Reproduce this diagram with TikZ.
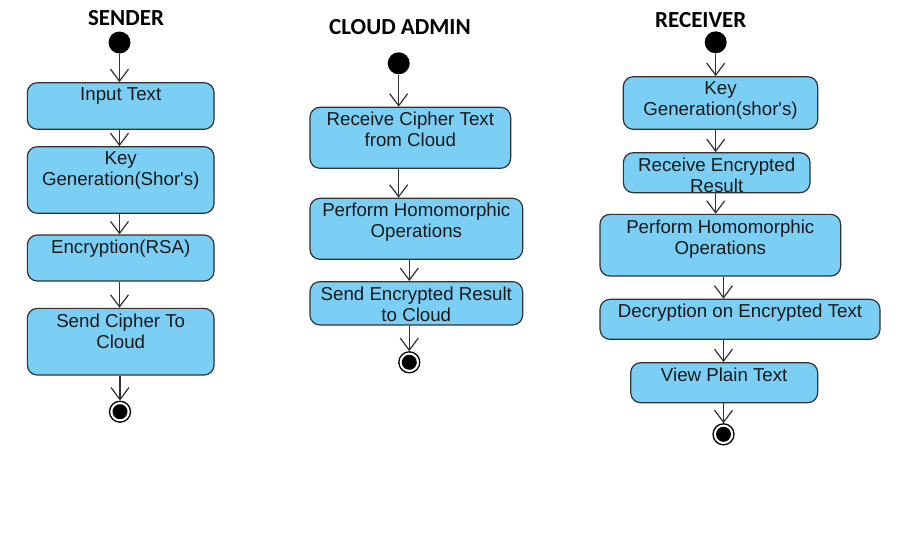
\documentclass[tikz,border=0pt]{standalone}
\usepackage{fontspec}
\setmainfont{Liberation Sans}
\newfontfamily\titlefont{Carlito}
\usetikzlibrary{arrows.meta}
\definecolor{actfill}{RGB}{123,206,244}
\definecolor{actline}{RGB}{50,50,50}
\newcommand\sq{\textquotesingle}
\tikzset{
  actbox/.style={draw=actline, fill=actfill, line width=1.2pt, rounded corners=10pt, inner sep=0pt},
  boxtext/.style={anchor=north, inner sep=0pt, align=center, text=black!90, font=\fontsize{18.7}{21}\selectfont},
  heading/.style={font=\titlefont\bfseries\fontsize{23}{26}\selectfont, inner sep=0pt},
  startnode/.style={circle, fill=black, minimum size=22pt, inner sep=0pt},
  endnode/.style={circle, draw=black, fill=white, line width=1.3pt, minimum size=21pt, inner sep=0pt,
    path picture={\fill[black] (path picture bounding box.center) circle (7.5pt);}},
  arr/.style={draw=actline, line width=1.2pt, -{Straight Barb[length=12pt,width=18pt,line width=1.2pt]}}
}
\begin{document}
\begin{tikzpicture}[x=1pt,y=-1pt]
\useasboundingbox (0,0) rectangle (917,542);
\fill[white] (0,0) rectangle (917,542);

% ---------- SENDER ----------
\node[heading] (h1) at (126,18) {SENDER};
\node[startnode] (s1) at (119.5,42.5) {};
\node[actbox, minimum width=186.7pt, minimum height=46.6pt] (a1) at (120.7,106) {};
\node[actbox, minimum width=186.7pt, minimum height=66.6pt] (a2) at (120.7,180) {};
\node[actbox, minimum width=186.7pt, minimum height=46pt] (a3) at (120.7,258) {};
\node[actbox, minimum width=186.7pt, minimum height=66.7pt] (a4) at (120.7,341.7) {};
\node[endnode] (e1) at (120,411.7) {};
\node[boxtext] (ta1) at ([yshift=-5.5pt]a1.north) {Input Text};
\node[boxtext] (ta2) at ([yshift=-5.5pt]a2.north) {Key\\Generation(Shor\sq s)};
\node[boxtext] (ta3) at ([yshift=-5.5pt]a3.north) {Encryption(RSA)};
\node[boxtext] (ta4) at ([yshift=-5.5pt]a4.north) {Send Cipher To\\Cloud};
\draw[arr] (s1) -- (a1.north -| s1);
\draw[arr] (a1.south -| s1) -- (a2.north -| s1);
\draw[arr] (a2.south -| s1) -- (a3.north -| s1);
\draw[arr] (a3.south -| s1) -- (a4.north -| s1);
\draw[arr] (a4.south -| e1) -- (e1);

% ---------- CLOUD ADMIN ----------
\node[heading] (h2) at (400,27) {CLOUD ADMIN};
\node[startnode] (s2) at (398.7,63.3) {};
\node[actbox, minimum width=200.7pt, minimum height=61pt] (c1) at (410.3,137.8) {};
\node[actbox, minimum width=212.7pt, minimum height=61pt] (c2) at (416.3,228.8) {};
\node[actbox, minimum width=212.7pt, minimum height=43.3pt] (c3) at (416.3,303.3) {};
\node[endnode] (e2) at (409.3,362.3) {};
\node[boxtext] (tc1) at ([yshift=-5.5pt]c1.north) {Receive Cipher Text\\from Cloud};
\node[boxtext] (tc2) at ([yshift=-5.5pt]c2.north) {Perform Homomorphic\\Operations};
\node[boxtext] (tc3) at ([yshift=-5.5pt]c3.north) {Send Encrypted Result\\to Cloud};
\draw[arr] (s2) -- (c1.north -| s2);
\draw[arr] (c1.south -| s2) -- (c2.north -| s2);
\draw[arr] (c2.south -| e2) -- (c3.north -| e2);
\draw[arr] (c3.south -| e2) -- (e2);

% ---------- RECEIVER ----------
\node[heading] (h3) at (700.8,20) {RECEIVER};
\node[startnode] (s3) at (715.7,42.3) {};
\node[actbox, minimum width=194.4pt, minimum height=52.6pt] (r1) at (720.5,103) {};
\node[actbox, minimum width=186.7pt, minimum height=40pt] (r2) at (716.7,172.7) {};
\node[actbox, minimum width=240.7pt, minimum height=61.7pt] (r3) at (720.3,245.2) {};
\node[actbox, minimum width=280pt, minimum height=40pt] (r4) at (740,319.3) {};
\node[actbox, minimum width=187pt, minimum height=40pt] (r5) at (724.2,382.7) {};
\node[endnode] (e3) at (723.5,434.3) {};
\node[boxtext] (tr1) at ([yshift=-5.5pt]r1.north) {Key\\Generation(shor\sq s)};
\node[boxtext] (tr2) at ([yshift=-5.5pt]r2.north) {Receive Encrypted\\Result};
\node[boxtext] (tr3) at ([yshift=-5.5pt]r3.north) {Perform Homomorphic\\Operations};
\node[boxtext] (tr4) at ([yshift=-5.5pt]r4.north) {Decryption on Encrypted Text};
\node[boxtext] (tr5) at ([yshift=-5.5pt]r5.north) {View Plain Text};
\draw[arr] (s3) -- (r1.north -| s3);
\draw[arr] (r1.south -| s3) -- (r2.north -| s3);
\draw[arr] (r2.south -| s3) -- (r3.north -| s3);
\draw[arr] (r3.south -| e3) -- (r4.north -| e3);
\draw[arr] (r4.south -| e3) -- (r5.north -| e3);
\draw[arr] (r5.south -| e3) -- (e3);
\end{tikzpicture}
\end{document}
